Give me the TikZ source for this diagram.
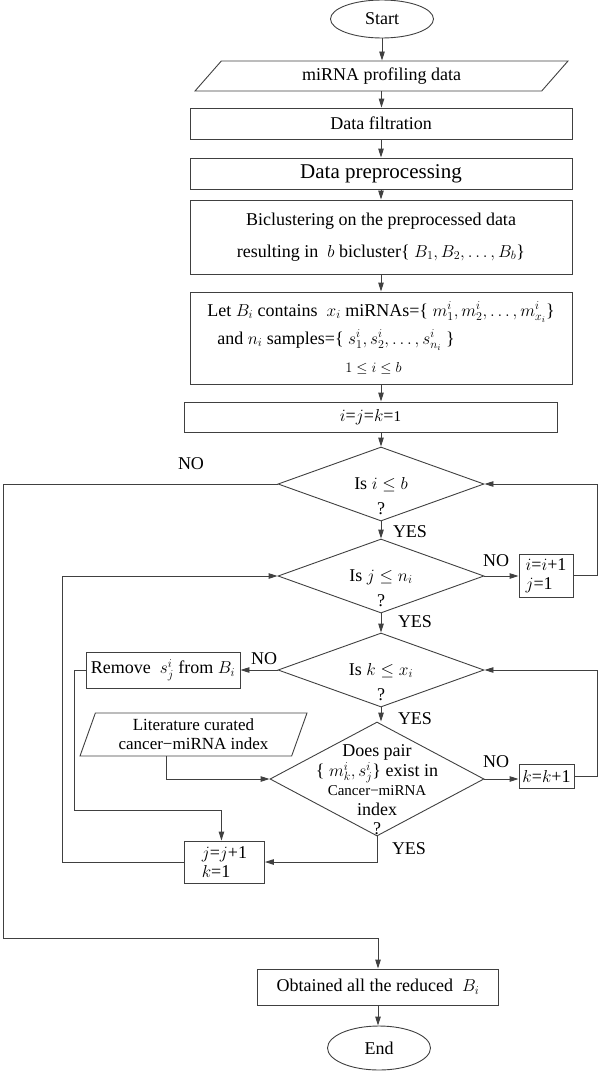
\documentclass[tikz,border=0pt]{standalone}
\usepackage{fontspec}
\setmainfont{Liberation Serif}
\usetikzlibrary{shapes.geometric, arrows.meta, positioning}

\begin{document}
\begin{tikzpicture}[x=1pt,y=-1pt,
	every node/.style={font=\fontsize{18}{22}\selectfont},
	line/.style={draw=black!75,line width=0.9pt},
	arr/.style={line,-{Triangle[length=9pt,width=5.5pt]}},
	box/.style={rectangle,line,inner sep=2pt},
	term/.style={ellipse,line,minimum width=103pt,minimum height=38pt,inner sep=0pt},
	decision/.style={diamond,line,inner sep=0pt,minimum width=206pt,minimum height=74pt},
	dtext/.style={align=center,inner sep=0pt,font=\fontsize{18}{25}\selectfont},
	lbl/.style={inner sep=0pt}]
	\useasboundingbox (0,0) rectangle (600,1073);
	% main column
	\node[term] (start) at (382,19) {Start};
	\node[trapezium,trapezium left angle=38,trapezium right angle=142,trapezium stretches body,line,inner sep=2pt,minimum width=373pt,minimum height=30pt] (prof) at (381.5,76) {miRNA profiling data};
	\node[box,minimum width=382pt,minimum height=31pt] (filt) at (381,123.5) {Data filtration};
	\node[box,minimum width=382pt,minimum height=31pt,font=\fontsize{21}{24}\selectfont] (prep) at (381,173.5) {Data preprocessing};
	\node[box,minimum width=382pt,minimum height=74pt,align=center,font=\fontsize{18}{32}\selectfont] (bicl) at (381,237) {Biclustering on the preprocessed data\\resulting in \ $b$ bicluster\{ $B_1, B_2, \dots, B_b$\}};
	\node[box,minimum width=382pt,minimum height=92pt,align=left,font=\fontsize{18}{28}\selectfont] (letb) at (381,338) {Let $B_i$ contains \ $x_i$ miRNAs=\{ $m^i_1, m^i_2, \dots, m^i_{x_i}$\}\\\hspace*{10pt}and $n_i$ samples=\{ $s^i_1, s^i_2, \dots, s^i_{n_i}$ \}\\\hspace*{138pt}{\fontsize{15}{28}\selectfont $1 \le i \le b$}};
	\node[box,minimum width=373pt,minimum height=30pt] (init) at (370.5,417) {$i$=$j$=$k$={\fontsize{15}{18}\selectfont 1}};
	% decisions
	\node[decision] (qi) at (381,484) {};
	\node[dtext] (qi-t) at ([yshift=-12pt]qi.center) {Is $i \le b$\\?};
	\node[decision] (qj) at (381,576) {};
	\node[dtext] (qj-t) at ([yshift=-12pt]qj.center) {Is $j \le n_i$\\?};
	\node[decision] (qk) at (381,670) {};
	\node[dtext] (qk-t) at ([yshift=-12pt]qk.center) {Is $k \le x_i$\\?};
	\node[decision,minimum width=214pt,minimum height=114pt] (qd) at (377,779) {};
	\node[dtext,font=\fontsize{18}{19.5}\selectfont] (qd-t) at ([yshift=-11pt]qd.center) {Does pair\\\{ $m^i_k, s^i_j$\} exist in\\{\fontsize{15}{19.5}\selectfont Cancer−miRNA}\\index\\?};
	% side boxes
	\node[box,align=left,minimum width=54pt,minimum height=43pt,inner sep=1pt,font=\fontsize{18}{19}\selectfont] (inci) at (546,575.5) {$i$=$i$+1\\$j$=1};
	\node[box,minimum width=154pt,minimum height=36pt] (remv) at (163,670) {Remove \ $s^i_j$ from $B_i$};
	\node[trapezium,trapezium left angle=65,trapezium right angle=115,trapezium stretches body,line,inner sep=1pt,minimum width=227pt,minimum height=43pt,align=center,font=\fontsize{17}{19}\selectfont] (litr) at (193.5,734.5) {Literature curated\\cancer−miRNA index};
	\node[box,minimum width=55pt,minimum height=24pt,inner sep=1pt] (inck) at (546.5,776) {$k$=$k$+1};
	\node[box,align=left,minimum width=80pt,minimum height=42pt,inner sep=1pt,font=\fontsize{18}{19}\selectfont,anchor=west] (incj) at (184,862) {$j$=$j$+1\\$k$=1};
	\node[box,minimum width=241pt,minimum height=36pt] (obtn) at (378,987) {Obtained all the reduced \ $B_i$};
	\node[term,minimum height=44pt] (stop) at (379,1048) {End};
	% turning points
	\coordinate (rx1) at (597,484);
	\coordinate (rx2) at (597,670);
	\coordinate (lx1) at (3,938);
	\coordinate (lx2) at (62,576);
	\coordinate (rl) at (74,810);
	% straight arrows
	\draw[arr] (start.south) -- (start.south |- prof.north);
	\draw[arr] (prof.south) -- (prof.south |- filt.north);
	\draw[arr] (filt.south) -- (prep.north);
	\draw[arr] (prep.south) -- (bicl.north);
	\draw[arr] (bicl.south) -- (letb.north);
	\draw[arr] (letb.south) -- (letb.south |- init.north);
	\draw[arr] (qi.north |- init.south) -- (qi.north);
	\draw[arr] (qi.south) -- (qj.north);
	\draw[arr] (qj.south) -- (qk.north);
	\draw[arr] (qk.south) -- (qk.south |- qd.north);
	% branches
	\draw[arr] (qj.east) -- (qj.east -| inci.west);
	\draw[arr] (inci.east) -| (rx1) -- (qi.east);
	\draw[arr] (qk.west) -- (qk.west -| remv.east);
	\draw[arr] (remv.west) -| (rl) -| ([xshift=-3pt]incj.north);
	\draw[arr] ([xshift=-27pt]litr.south) |- (qd.west);
	\draw[arr] (qd.east) -- (qd.east -| inck.west);
	\draw[arr] (inck.east) -| (rx2) -- (qk.east);
	\draw[arr] (qd.south) |- (incj.east);
	\draw[arr] (incj.west) -| (lx2) -- (qj.west);
	\draw[arr] (qi.west) -| (lx1) -| (obtn.north);
	\draw[arr] (obtn.south) -- (obtn.south |- stop.north);
	% labels
	\node[lbl] (no1) at (191,464) {NO};
	\node[lbl] (yes1) at (410,532) {YES};
	\node[lbl] (no2) at (496,561) {NO};
	\node[lbl] (yes2) at (415,622) {YES};
	\node[lbl] (no3) at (264,659) {NO};
	\node[lbl] (yes3) at (415,719) {YES};
	\node[lbl] (no4) at (496,762) {NO};
	\node[lbl] (yes4) at (409,849) {YES};
\end{tikzpicture}
\end{document}
